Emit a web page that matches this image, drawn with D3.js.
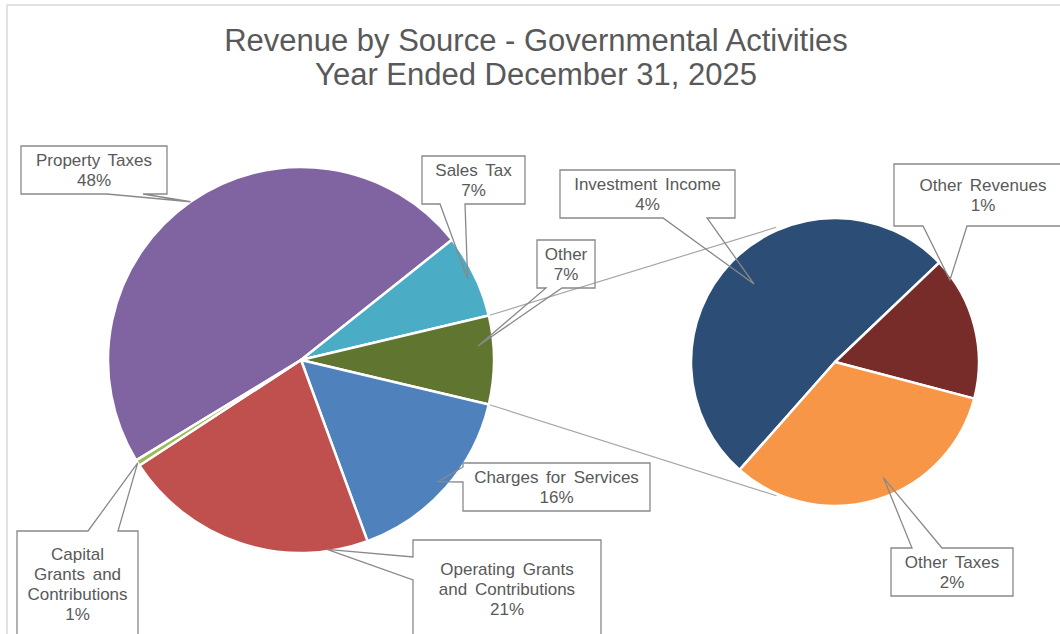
<!DOCTYPE html>
<html>
<head>
<meta charset="utf-8">
<script src="https://cdn.jsdelivr.net/npm/d3@7"></script>
<style>
  html, body { margin: 0; padding: 0; background: #ffffff; }
  svg { display: block; }
  text { font-family: "Liberation Sans", Arial, sans-serif; fill: #595959; }
</style>
</head>
<body>
<svg id="chart" width="1060" height="634"></svg>
<script>
// Revenue sources (percent of total governmental revenue)
const mainCategories = ["Property Taxes", "Sales Tax", "Charges for Services",
                        "Operating Grants and Contributions", "Capital Grants and Contributions"];
const mainValues = [48.0, 7.0, 15.7, 21.4, 0.5];
const mainColors = ["#8064a2", "#4bacc6", "#4f81bd", "#c0504d", "#9bbb59"];

// Smaller sources, grouped into "Other" and broken out in the second pie
const otherCategories = ["Investment Income", "Other Revenues", "Other Taxes"];
const otherValues = [3.8, 1.2, 2.4];
const otherColors = ["#2c4d75", "#772c2a", "#f79646"];
const otherLabel = "Other";
const otherColor = "#5f7530";

const titleLines = ["Revenue by Source - Governmental Activities", "Year Ended December 31, 2025"];

// ---- layout ----
const W = 1060, H = 634;
const mainCenter = [301, 360], mainR = 193;
const subCenter = [835, 362], subR = 144;
const deg = Math.PI / 180;

const svg = d3.select("#chart");

// chart frame
svg.append("rect")
  .attr("x", 7).attr("y", 5).attr("width", W + 10).attr("height", H + 10)
  .attr("fill", "#ffffff").attr("stroke", "#d9d9d9").attr("stroke-width", 1.5);

// title
svg.append("text")
  .attr("x", 536).attr("y", 51)
  .attr("text-anchor", "middle")
  .style("font-size", "31px")
  .selectAll("tspan").data(titleLines).join("tspan")
  .attr("x", 536).attr("dy", (d, i) => i === 0 ? 0 : 34)
  .text(d => d);

// primary pie data: "Other" sits between Sales Tax and Charges for Services
const mainData = mainCategories.map((c, i) => ({ name: c, value: mainValues[i], color: mainColors[i] }));
mainData.splice(2, 0, { name: otherLabel, value: d3.sum(otherValues), color: otherColor });

// rotate so the "Other" slice is centred at 3 o'clock
const total = d3.sum(mainData, d => d.value);
const before = d3.sum(mainData.slice(0, 2), d => d.value) + mainData[2].value / 2;
const mainStart = Math.PI / 2 - before / total * 2 * Math.PI;

const mainPie = d3.pie().sort(null).value(d => d.value)
  .startAngle(mainStart).endAngle(mainStart + 2 * Math.PI);
const mainArcs = mainPie(mainData);

const subData = otherCategories.map((c, i) => ({ name: c, value: otherValues[i], color: otherColors[i] }));
const subStart = 221.5 * deg;
const subPie = d3.pie().sort(null).value(d => d.value)
  .startAngle(subStart).endAngle(subStart + 2 * Math.PI);
const subArcs = subPie(subData);

const polar = (c, r, a) => [c[0] + r * Math.sin(a), c[1] - r * Math.cos(a)];

// series lines from the edges of "Other" to the second pie
const otherArc = mainArcs[2];
const joins = [
  [polar(mainCenter, mainR, otherArc.startAngle), polar(subCenter, subR + 3, -23.6 * deg)],
  [polar(mainCenter, mainR, otherArc.endAngle), polar(subCenter, subR + 2, 203.6 * deg)]
];
svg.append("g").selectAll("line").data(joins).join("line")
  .attr("x1", d => d[0][0]).attr("y1", d => d[0][1])
  .attr("x2", d => d[1][0]).attr("y2", d => d[1][1])
  .attr("stroke", "#a6a6a6").attr("stroke-width", 1.2);

// pies
function drawPie(arcs, center, r) {
  const arc = d3.arc().innerRadius(0).outerRadius(r);
  svg.append("g")
    .attr("transform", `translate(${center[0]},${center[1]})`)
    .selectAll("path").data(arcs).join("path")
    .attr("d", arc)
    .attr("fill", d => d.data.color)
    .attr("stroke", "#ffffff").attr("stroke-width", 2.5)
    .attr("stroke-linejoin", "round");
}
drawPie(mainArcs, mainCenter, mainR);
drawPie(subArcs, subCenter, subR);

// callout placement: box, side carrying the pointer, pointer base span,
// pointer tip as fraction of the slice angle (t) and of the radius (k)
const mainCallouts = {
  "Property Taxes":                     { box: [21, 146, 146, 48],  side: "bottom", base: [107, 143], t: 0.5,  k: 1.0 },
  "Sales Tax":                          { box: [422, 156, 103, 48], side: "bottom", base: [440, 465], t: 0.5,  k: 0.96 },
  "Other":                              { box: [537, 240, 58, 48],  side: "bottom", base: [546, 562], t: 0.33, k: 0.92 },
  "Charges for Services":               { box: [463, 463, 187, 48], side: "left",   base: [467, 482], t: 0.5,  k: 0.95 },
  "Operating Grants and Contributions": { box: [413, 540, 188, 98], side: "left",   base: [557, 580], t: 0.16, k: 0.99, wrap: 145 },
  "Capital Grants and Contributions":   { box: [17, 531, 121, 106], side: "top",    base: [88, 118],  t: 0.5,  k: 1.0,  wrap: 104 }
};
const subCallouts = {
  "Investment Income": { box: [560, 170, 175, 48], side: "bottom", base: [663, 707], t: 0.5,  k: 0.78 },
  "Other Revenues":    { box: [894, 164, 178, 62], side: "bottom", base: [923, 967], t: 0.14, k: 0.98 },
  "Other Taxes":       { box: [891, 548, 122, 48], side: "top",    base: [912, 942], t: 0.45, k: 0.87 }
};

function calloutPath(c, tip) {
  const [x, y, w, h] = c.box;
  const [a, b] = c.base;
  const p = d3.path();
  p.moveTo(x, y);
  if (c.side === "top") { p.lineTo(a, y); p.lineTo(tip[0], tip[1]); p.lineTo(b, y); }
  p.lineTo(x + w, y);
  p.lineTo(x + w, y + h);
  if (c.side === "bottom") { p.lineTo(b, y + h); p.lineTo(tip[0], tip[1]); p.lineTo(a, y + h); }
  p.lineTo(x, y + h);
  if (c.side === "left") { p.lineTo(x, b); p.lineTo(tip[0], tip[1]); p.lineTo(x, a); }
  p.closePath();
  return p.toString();
}

const labelFont = 17, lineH = 20;
const labelLayer = svg.append("g");

function wrapWords(str, maxW) {
  if (!maxW) return [str];
  const probe = labelLayer.append("text").style("font-size", labelFont + "px").style("word-spacing", "3px");
  const words = str.split(" ");
  const lines = [];
  let cur = words[0];
  for (let i = 1; i < words.length; i++) {
    probe.text(cur + " " + words[i]);
    if (probe.node().getComputedTextLength() > maxW) { lines.push(cur); cur = words[i]; }
    else cur += " " + words[i];
  }
  lines.push(cur);
  probe.remove();
  return lines;
}

function drawCallouts(arcs, center, r, layout) {
  arcs.forEach(d => {
    const c = layout[d.data.name];
    if (!c) return;
    const a = d.startAngle + c.t * (d.endAngle - d.startAngle);
    const tip = polar(center, c.k * r, a);
    labelLayer.append("path")
      .attr("d", calloutPath(c, tip))
      .attr("fill", "none")
      .attr("stroke", "#898989").attr("stroke-width", 1.3)
      .attr("stroke-linejoin", "miter");
    const lines = wrapWords(d.data.name, c.wrap).concat([Math.round(d.data.value) + "%"]);
    const [x, y, w, h] = c.box;
    const cx = x + w / 2, cy = y + h / 2;
    labelLayer.append("text")
      .attr("text-anchor", "middle")
      .style("font-size", labelFont + "px")
      .style("word-spacing", "3px")
      .selectAll("tspan").data(lines).join("tspan")
      .attr("x", cx)
      .attr("y", (s, i) => cy + (i - (lines.length - 1) / 2) * lineH + 6)
      .text(s => s);
  });
}
drawCallouts(mainArcs, mainCenter, mainR, mainCallouts);
drawCallouts(subArcs, subCenter, subR, subCallouts);
</script>
</body>
</html>
